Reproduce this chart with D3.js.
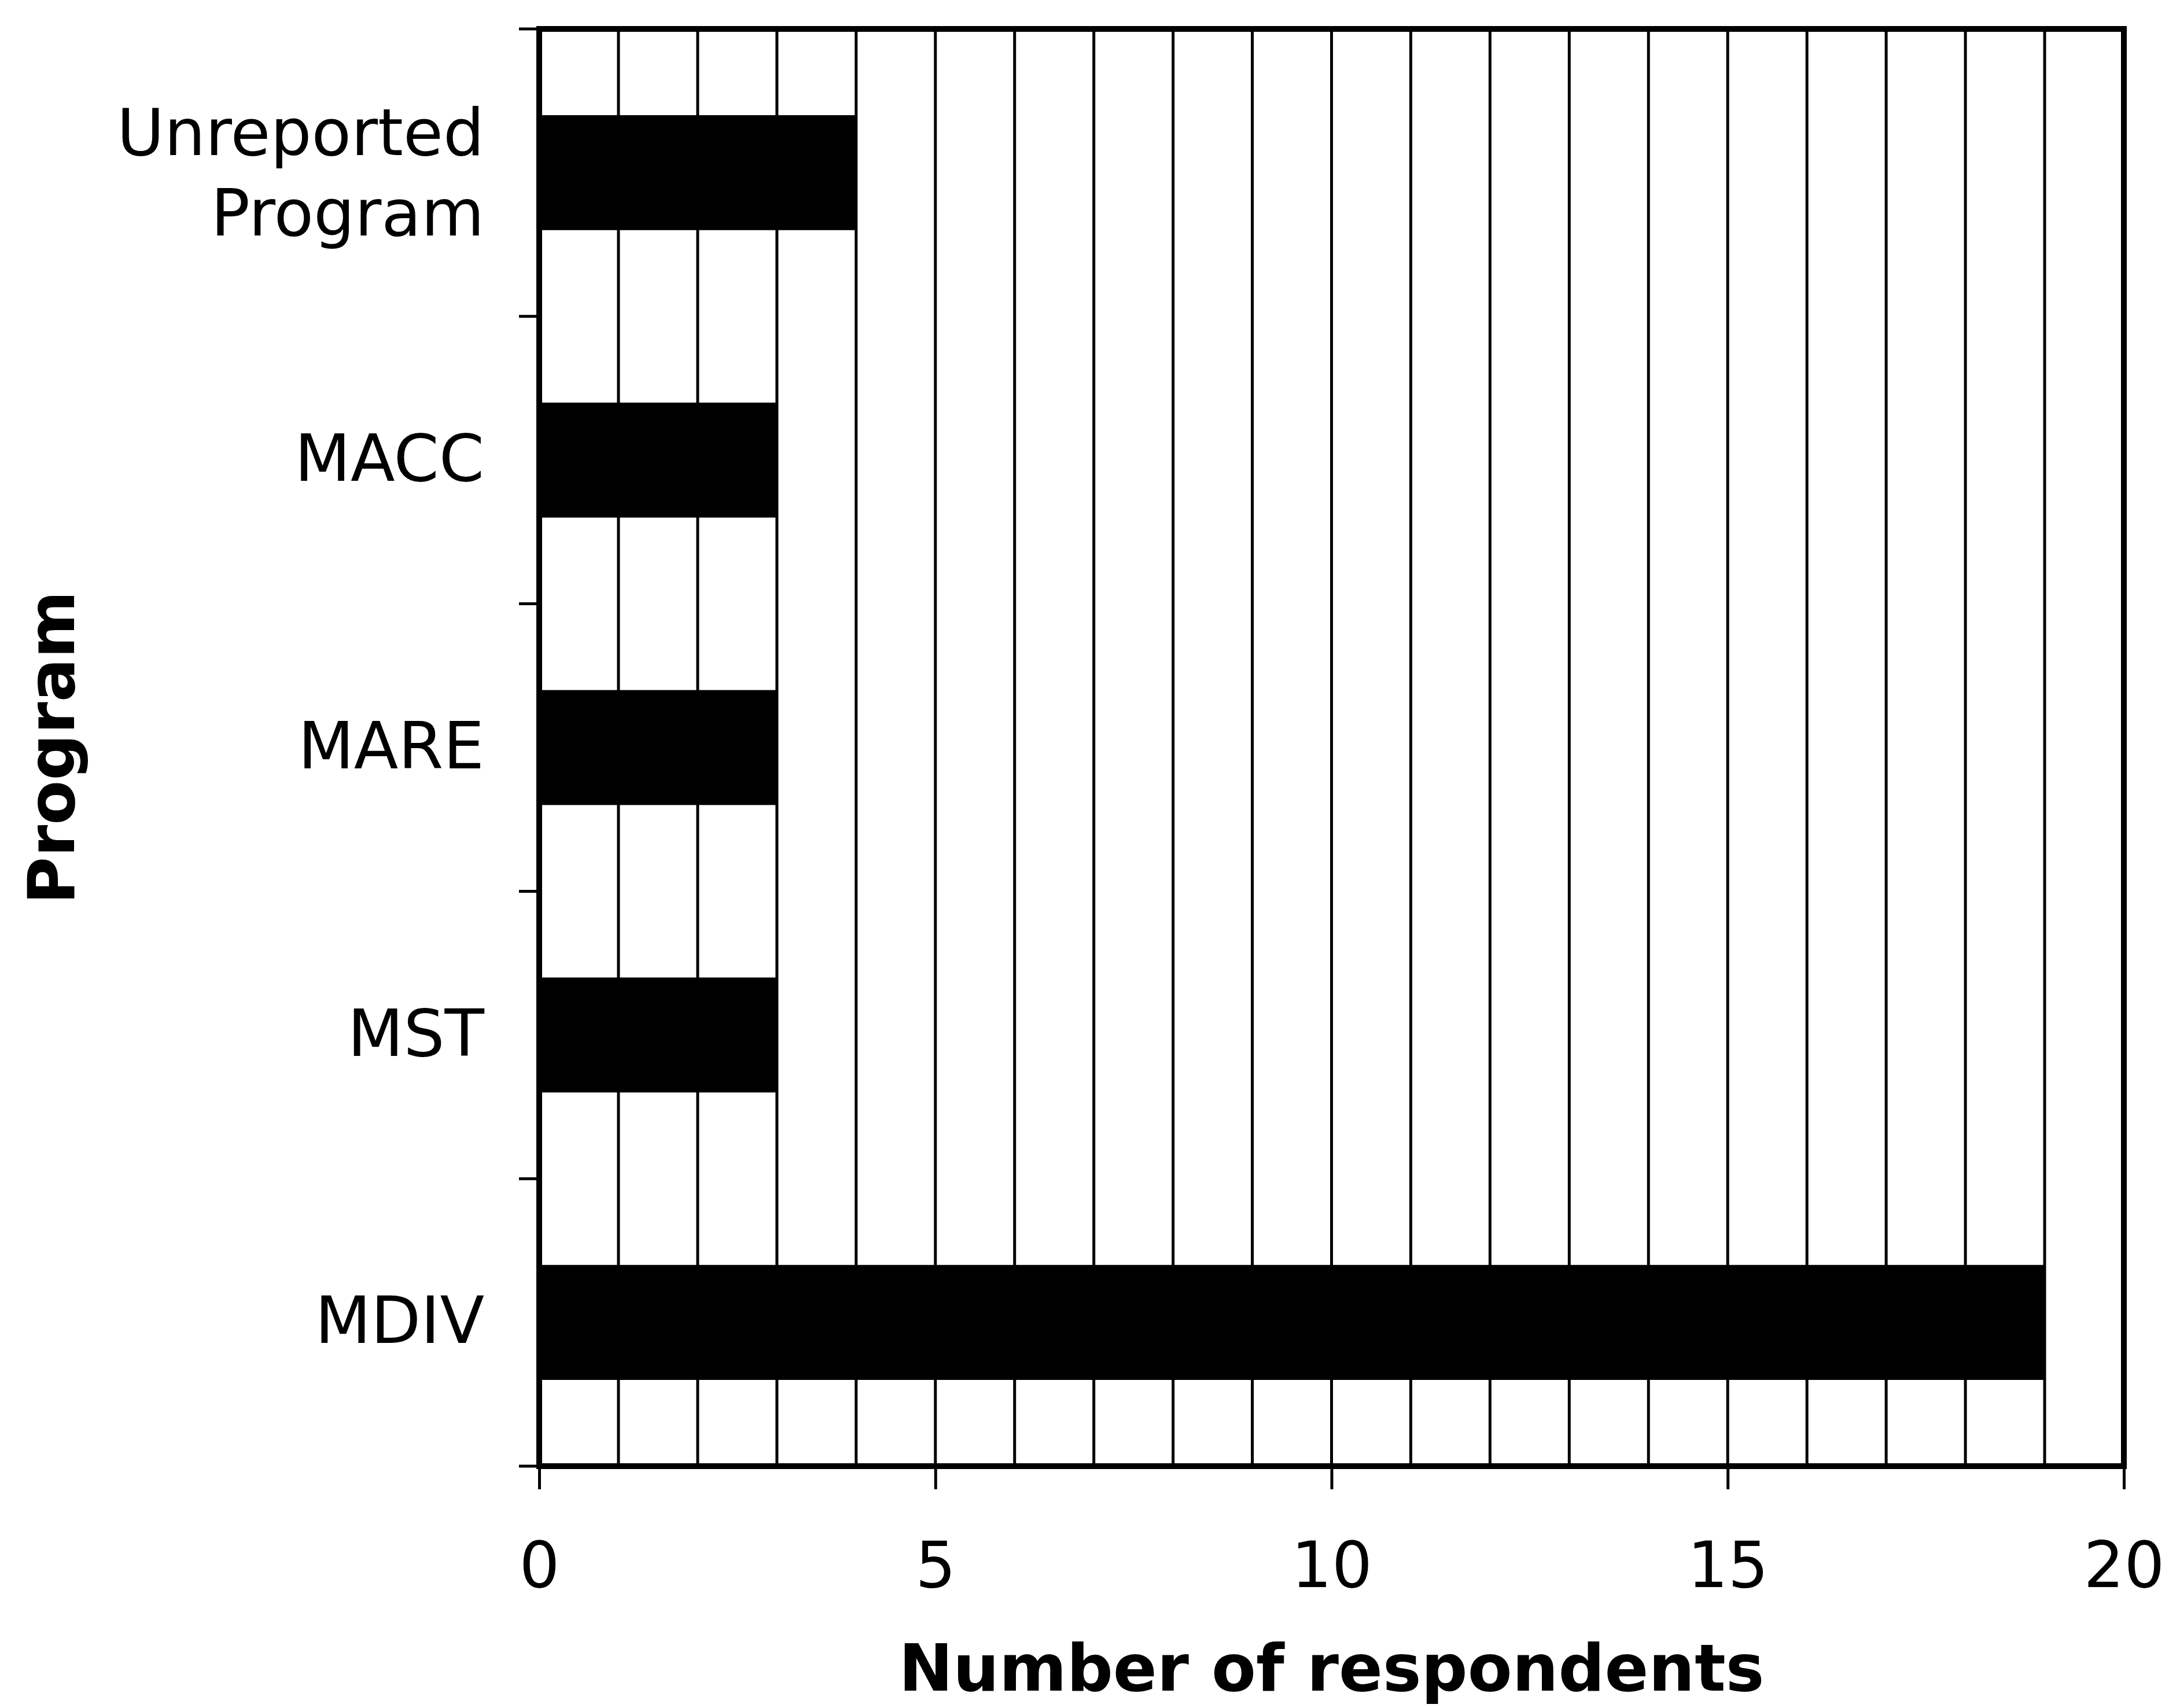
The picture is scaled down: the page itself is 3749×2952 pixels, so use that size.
<!DOCTYPE html>
<html>
<head>
<meta charset="utf-8">
<script src="https://cdn.jsdelivr.net/npm/d3@7"></script>
<style>
  html, body { margin: 0; padding: 0; background: #ffffff; }
  svg { display: block; }
  text { font-family: "DejaVu Sans", Verdana, sans-serif; fill: #000; }
</style>
</head>
<body>
<svg id="chart" width="3749" height="2952"></svg>
<script>
// ---- data ----
const categories = ["Unreported Program", "MACC", "MARE", "MST", "MDIV"];
const respondents = [4, 3, 3, 3, 19];
const xTickValues = [0, 5, 10, 15, 20];
const xTitle = "Number of respondents";
const yTitle = "Program";

// ---- layout ----
const W = 3749, H = 2952;
const margin = { left: 932, top: 50, right: W - 3671, bottom: H - 2534 };
const pw = W - margin.left - margin.right;
const ph = H - margin.top - margin.bottom;

const svg = d3.select("#chart");
svg.append("rect").attr("width", W).attr("height", H).attr("fill", "#fff");

const g = svg.append("g").attr("transform", `translate(${margin.left},${margin.top})`);

const x = d3.scaleLinear().domain([0, 20]).range([0, pw]);
const y = d3.scaleBand().domain(categories).range([0, ph]).paddingInner(0.6).paddingOuter(0.3);

// vertical gridlines at every unit
g.append("g").selectAll("line")
  .data(d3.range(1, 20))
  .join("line")
  .attr("x1", d => x(d)).attr("x2", d => x(d))
  .attr("y1", 0).attr("y2", ph)
  .attr("stroke", "#000").attr("stroke-width", 5);

// bars
g.append("g").selectAll("rect")
  .data(categories.map((c, i) => ({ c, v: respondents[i] })))
  .join("rect")
  .attr("x", x(0))
  .attr("y", d => y(d.c))
  .attr("width", d => x(d.v) - x(0))
  .attr("height", y.bandwidth())
  .attr("fill", "#000");

// plot border
g.append("rect")
  .attr("x", 0).attr("y", 0).attr("width", pw).attr("height", ph)
  .attr("fill", "none").attr("stroke", "#000").attr("stroke-width", 10);

// x axis (ticks + labels)
const xAxis = d3.axisBottom(x).tickValues(xTickValues).tickSize(40).tickSizeOuter(0).tickPadding(91);
const gx = g.append("g").attr("transform", `translate(0,${ph})`).call(xAxis);
gx.select(".domain").remove();
gx.selectAll(".tick line").attr("stroke", "#000").attr("stroke-width", 5);
gx.selectAll(".tick text")
  .attr("font-size", 110)
  .attr("font-family", "'DejaVu Sans', Verdana, sans-serif")
  .attr("fill", "#000");

// y axis tick marks at category boundaries
const boundaries = d3.range(categories.length + 1).map(i => i * y.step());
g.append("g").selectAll("line")
  .data(boundaries)
  .join("line")
  .attr("x1", -35).attr("x2", 0)
  .attr("y1", d => d).attr("y2", d => d)
  .attr("stroke", "#000").attr("stroke-width", 5);

// y category labels
const yAxis = d3.axisLeft(y).tickSize(0).tickPadding(95);
const gy = g.append("g").call(yAxis);
gy.select(".domain").remove();
gy.selectAll(".tick text")
  .attr("font-size", 112)
  .attr("font-family", "'DejaVu Sans', Verdana, sans-serif")
  .attr("fill", "#000")
  .each(function(d) {
    const words = d.split(" ");
    const t = d3.select(this);
    if (words.length > 1) {
      t.text(null).attr("dy", null);
      const lh = 1.24;
      const n = words.length;
      words.forEach((w, i) => {
        t.append("tspan")
          .attr("x", -95)
          .attr("dy", i === 0 ? `${(-(n - 1) / 2 * lh + 0.35).toFixed(3)}em` : `${lh}em`)
          .text(w);
      });
    }
  });

// axis titles
svg.append("text")
  .attr("x", margin.left + pw / 2)
  .attr("y", 2922)
  .attr("text-anchor", "middle")
  .attr("font-size", 112)
  .attr("font-weight", "bold")
  .text(xTitle);

svg.append("text")
  .attr("transform", `translate(128,${margin.top + ph / 2}) rotate(-90)`)
  .attr("text-anchor", "middle")
  .attr("font-size", 112)
  .attr("font-weight", "bold")
  .text(yTitle);
</script>
</body>
</html>
